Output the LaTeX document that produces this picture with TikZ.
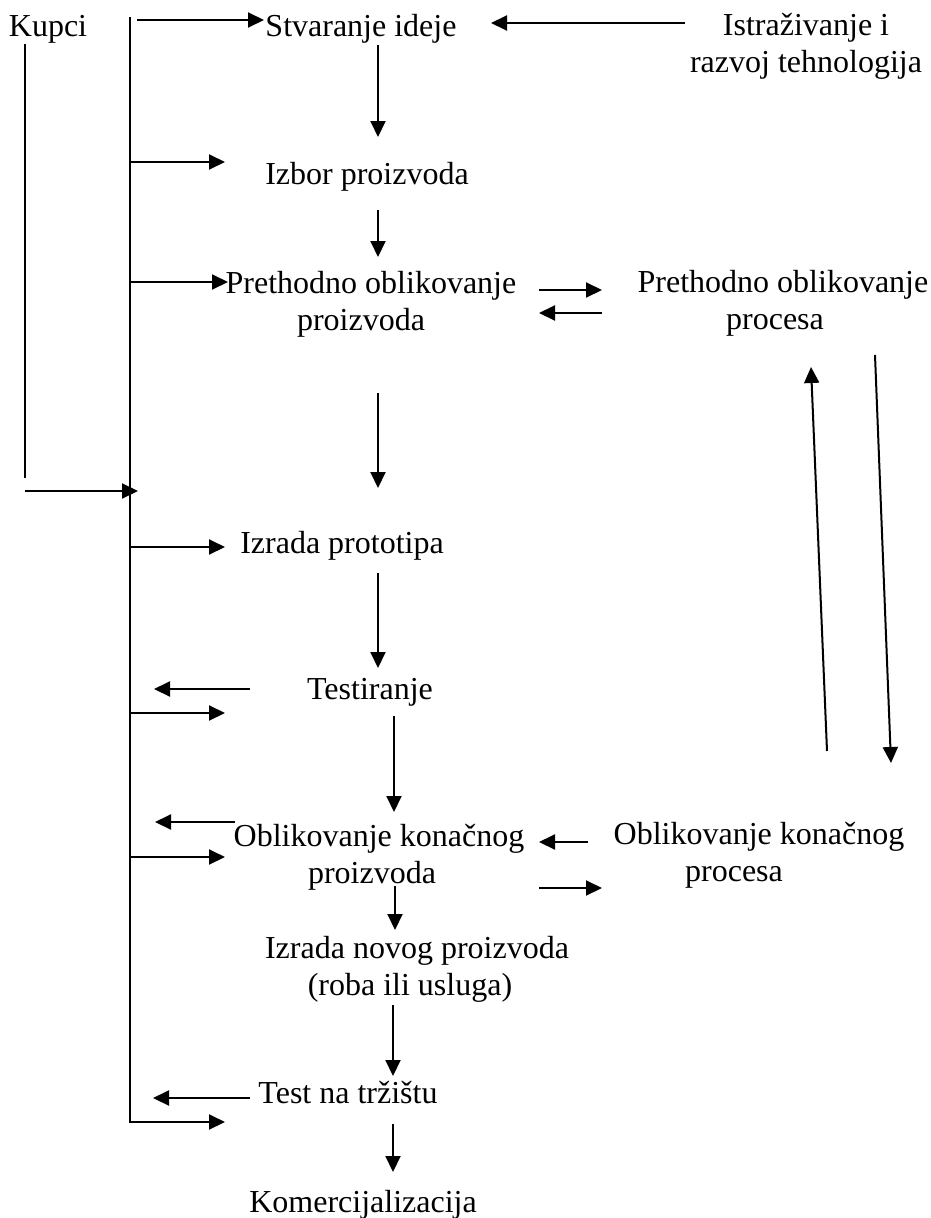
\documentclass[tikz,border=0pt]{standalone}
\usepackage{fontspec}
\setmainfont{Liberation Serif}
\usetikzlibrary{arrows.meta}
\begin{document}
\begin{tikzpicture}[x=1pt,y=-1pt,
  lbl/.style={font=\fontsize{32}{37}\selectfont, inner sep=0pt, align=center, anchor=base},
  ln/.style={line width=2pt},
  arr/.style={ln, -{Triangle[length=16pt,width=15pt]}}]
\useasboundingbox (0,0) rectangle (931,1218);
% labels (anchor = baseline of last line)
\node[lbl] (kupci) at (48,36) {Kupci};
\node[lbl] (stv) at (361,36) {Stvaranje ideje};
\node[lbl] (istr) at (806,72) {Istraživanje i\\razvoj tehnologija};
\node[lbl] (izbor) at (367,184) {Izbor proizvoda};
\node[lbl] (preth) at (371,330) {Prethodno oblikovanje\\proizvoda\hspace*{20pt}};
\node[lbl] (prethp) at (783,329) {Prethodno oblikovanje\\procesa\hspace*{16pt}};
\node[lbl] (proto) at (342,553) {Izrada prototipa};
\node[lbl] (test) at (370,699) {Testiranje};
\node[lbl] (oblk) at (379,883) {Oblikovanje konačnog\\proizvoda\hspace*{14pt}};
\node[lbl] (oblkp) at (759,881) {Oblikovanje konačnog\\procesa\hspace*{50pt}};
\node[lbl] (novi) at (417,995) {Izrada novog proizvoda\\(roba ili usluga)\hspace*{14pt}};
\node[lbl] (trz) at (348,1103) {Test na tržištu};
\node[lbl] (kom) at (363,1212) {Komercijalizacija};
% coordinates
\coordinate (kt) at (25,44);   \coordinate (kb) at (25,478);
\coordinate (ka) at (25,491);  \coordinate (kaa) at (138,491);
\coordinate (mt) at (129.5,17); \coordinate (mb) at (129.5,1122); \coordinate (mbe) at (225,1122);
\coordinate (s1) at (137,20);  \coordinate (s2) at (264,20);
\coordinate (r1) at (685,23);  \coordinate (r2) at (491,23);
\coordinate (d1a) at (378,45);  \coordinate (d1b) at (378,137);
\coordinate (i1) at (129.5,162); \coordinate (i2) at (225,162);
\coordinate (d2a) at (378,210); \coordinate (d2b) at (378,257);
\coordinate (p1) at (129.5,282); \coordinate (p2) at (228,282);
\coordinate (h1) at (539,290); \coordinate (h2) at (602,290);
\coordinate (h3) at (602,313); \coordinate (h4) at (539,313);
\coordinate (d3a) at (378,393); \coordinate (d3b) at (378,488);
\coordinate (u1) at (827,751); \coordinate (u2) at (811,367);
\coordinate (w1) at (875,355); \coordinate (w2) at (891,763);
\coordinate (z1) at (129.5,547); \coordinate (z2) at (225,547);
\coordinate (d4a) at (378,573); \coordinate (d4b) at (378,668);
\coordinate (t1) at (250,689); \coordinate (t2) at (154,689);
\coordinate (t3) at (129.5,713); \coordinate (t4) at (225,713);
\coordinate (d5a) at (394,716); \coordinate (d5b) at (394,812);
\coordinate (o1) at (235,822); \coordinate (o2) at (155,822);
\coordinate (o3) at (129.5,857); \coordinate (o4) at (225,857);
\coordinate (q1) at (588,842); \coordinate (q2) at (539,842);
\coordinate (q3) at (539,888); \coordinate (q4) at (602,888);
\coordinate (d6a) at (395,886); \coordinate (d6b) at (395,930);
\coordinate (d7a) at (393,1005); \coordinate (d7b) at (393,1076);
\coordinate (m1) at (250,1098); \coordinate (m2) at (153,1098);
\coordinate (d8a) at (393,1124); \coordinate (d8b) at (393,1172);
% connectors
\draw[ln] (kt) -- (kb);
\draw[arr] (ka) -- (kaa);
\draw[arr] (mt) -- (mb) -- (mbe);
\draw[arr] (s1) -- (s2);
\draw[arr] (r1) -- (r2);
\draw[arr] (d1a) -- (d1b);
\draw[arr] (i1) -- (i2);
\draw[arr] (d2a) -- (d2b);
\draw[arr] (p1) -- (p2);
\draw[arr] (h1) -- (h2);
\draw[arr] (h3) -- (h4);
\draw[arr] (d3a) -- (d3b);
\draw[arr] (u1) -- (u2);
\draw[arr] (w1) -- (w2);
\draw[arr] (z1) -- (z2);
\draw[arr] (d4a) -- (d4b);
\draw[arr] (t1) -- (t2);
\draw[arr] (t3) -- (t4);
\draw[arr] (d5a) -- (d5b);
\draw[arr] (o1) -- (o2);
\draw[arr] (o3) -- (o4);
\draw[arr] (q1) -- (q2);
\draw[arr] (q3) -- (q4);
\draw[arr] (d6a) -- (d6b);
\draw[arr] (d7a) -- (d7b);
\draw[arr] (m1) -- (m2);
\draw[arr] (d8a) -- (d8b);
\end{tikzpicture}
\end{document}
